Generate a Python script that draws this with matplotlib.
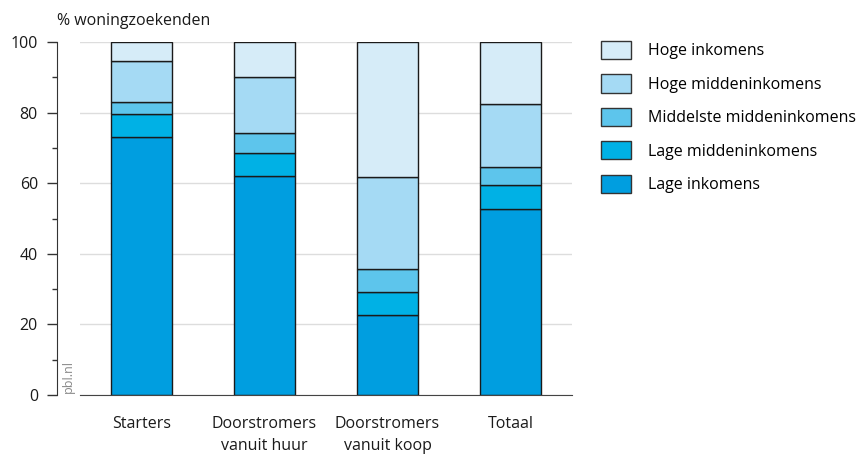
import matplotlib
matplotlib.use("Agg")
import numpy as np
import matplotlib.pyplot as plt
from matplotlib.patches import Patch

plt.rcParams['font.family'] = ['Open Sans', 'DejaVu Sans']

# data (percentages)
categories = ["Starters", "Doorstromers\nvanuit huur", "Doorstromers\nvanuit koop", "Totaal"]
lage_inkomens = [73.1, 62.0, 22.7, 52.7]
lage_midden = [6.5, 6.6, 6.5, 6.7]
middelste_midden = [3.4, 5.7, 6.4, 5.3]
hoge_midden = [11.7, 15.7, 26.1, 17.8]
hoge_inkomens = [5.3, 10.0, 38.3, 17.5]

series = [lage_inkomens, lage_midden, middelste_midden, hoge_midden, hoge_inkomens]
labels = ["Lage inkomens", "Lage middeninkomens", "Middelste middeninkomens",
          "Hoge middeninkomens", "Hoge inkomens"]
colors = ["#009ee0", "#00b1e5", "#5dc5ec", "#a5daf4", "#d6ecf8"]

FS = 11.5
PX = 0.72  # points per pixel at dpi 100

fig = plt.figure(figsize=(8.61, 4.54), dpi=100)
ax = fig.add_axes([80/861, 59/454, 492/861, 353/454])

x = np.arange(len(categories))
bottom = np.zeros(len(categories))
for vals, col in zip(series, colors):
  ax.bar(x, vals, width=0.5, bottom=bottom, color=col, edgecolor="#1a1a1a", linewidth=1.0, zorder=3)
  bottom += np.array(vals)

ax.set_xlim(-0.5, 3.5)
ax.set_ylim(0, 100)

# grid
ax.set_yticks([0, 20, 40, 60, 80, 100])
ax.set_yticks([10, 30, 50, 70, 90], minor=True)
ax.yaxis.grid(True, which="major", color="#dddddd", linewidth=1.0, zorder=0)
ax.set_axisbelow(True)

for s in ["top", "right"]:
  ax.spines[s].set_visible(False)
ax.spines["left"].set_position(("outward", 23*PX))
ax.spines["left"].set_color("#333333")
ax.spines["bottom"].set_color("#444444")
ax.spines["bottom"].set_zorder(4)

ax.tick_params(axis="y", which="major", length=10*PX, width=1, color="#333333", pad=9*PX, labelsize=FS, labelcolor="#1a1a1a")
ax.tick_params(axis="y", which="minor", length=5*PX, width=1, color="#333333")
ax.set_xticks(x)
ax.set_xticklabels(categories, fontsize=FS, color="#1a1a1a", linespacing=1.5)
ax.tick_params(axis="x", length=0, pad=21*PX)

fig.text(57/861, 1 - 21/454, "% woningzoekenden", fontsize=FS, color="#1a1a1a", va="center", ha="left")
fig.text(68/861, 1 - 393/454, "pbl.nl", fontsize=9, color="#888888", rotation=90, ha="center", va="bottom")

handles = [Patch(facecolor=c, edgecolor="#333333", linewidth=1.0) for c in colors[::-1]]
fig.legend(handles, labels[::-1], loc="upper left", bbox_to_anchor=(601/861, 1 - 41/454),
           frameon=False, fontsize=FS, handlelength=30/(FS/PX), handleheight=22/(FS/PX),
           labelspacing=15/(FS/PX), handletextpad=17/(FS/PX), borderpad=0, borderaxespad=0)

fig.savefig("out.png", dpi=100)
